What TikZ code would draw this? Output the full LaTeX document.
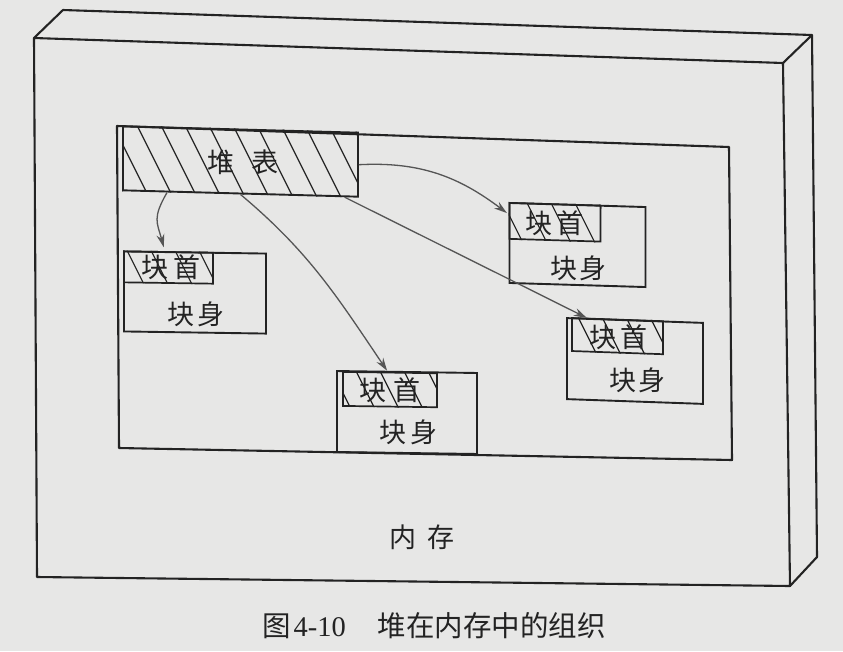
\documentclass[tikz,border=0pt]{standalone}
\usepackage{fontspec}
\setmainfont{Liberation Serif}
\newfontfamily\cjk{Noto Sans CJK SC}
\usetikzlibrary{calc,arrows.meta}

\definecolor{bgc}{RGB}{231,231,230}
\definecolor{inkc}{RGB}{35,35,35}
\definecolor{linkc}{RGB}{85,85,85}

\tikzset{
  frameline/.style={draw=inkc, line width=2.1pt, line join=round},
  blockbox/.style={draw=inkc, line width=1.9pt, inner sep=0pt, anchor=center},
  headbox/.style={draw=inkc, line width=1.7pt, inner sep=0pt, anchor=north west},
  lbl/.style={font=\cjk\fontsize{27}{27}\selectfont, inner sep=0pt, text=inkc},
  link/.style={draw=linkc, line width=1.3pt, -{Stealth[length=13pt,width=8pt]}},
  hatchline/.style={draw=inkc, line width=1.2pt}
}

% diagonal hatching clipped to a node: #1 node, #2 offset of first line, #3 last index
\newcommand\hatchbox[3]{%
  \begin{scope}
    \clip (#1.north west) -- (#1.north east) -- (#1.south east) -- (#1.south west) -- cycle;
    \foreach \k in {0,...,#3}
      \draw[hatchline] ($(#1.north west)+(#2+24*\k,0)$) -- ++(50,-100);
  \end{scope}}

\begin{document}
\begin{tikzpicture}[x=1pt,y=1pt]
  \fill[bgc] (0,0) rectangle (843,-651);
  \useasboundingbox (0,0) rectangle (843,-651);

  % memory box: front face, top face and right face
  \coordinate (f1) at (34,-38);
  \coordinate (f2) at (783,-63);
  \coordinate (f3) at (790,-586);
  \coordinate (f4) at (37,-577);
  \coordinate (b1) at (63,-10);
  \coordinate (b2) at (812,-35);
  \coordinate (b3) at (817,-557);
  \draw[frameline] (f1) -- (f2) -- (f3) -- (f4) -- cycle;
  \draw[frameline] (f1) -- (b1) -- (b2) -- (f2);
  \draw[frameline] (b2) -- (b3) -- (f3);

  % heap area
  \coordinate (h1) at (117,-126);
  \coordinate (h2) at (729,-147);
  \coordinate (h3) at (732,-460);
  \coordinate (h4) at (119,-448);
  \draw[frameline] (h1) -- (h2) -- (h3) -- (h4) -- cycle;

  % heap table
  \node[blockbox, minimum width=235pt, minimum height=64pt, yslant=-0.027] (tbl) at (240.5,-161.5) {};
  \hatchbox{tbl}{-33}{13}
  \node[lbl] (tbltxt) at (243,-162) {堆\hspace{17pt}表};

  % block A
  \node[blockbox, minimum width=142pt, minimum height=80pt, yslant=-0.015] (blkA) at (195,-292.5) {};
  \node[headbox, minimum width=89pt, minimum height=31pt, yslant=-0.015] (hdA) at (blkA.north west) {};
  \hatchbox{hdA}{-44}{7}
  \node[lbl] (tA1) at (171,-267) {块\hspace{5pt}首};
  \node[lbl] (tA2) at (196,-314) {块\hspace{4pt}身};

  % block B
  \node[blockbox, minimum width=136pt, minimum height=80pt, yslant=-0.03] (blkB) at (577.5,-245) {};
  \node[headbox, minimum width=91pt, minimum height=36pt, yslant=-0.03] (hdB) at (blkB.north west) {};
  \hatchbox{hdB}{-30}{7}
  \node[lbl] (tB1) at (554,-223) {块\hspace{4pt}首};
  \node[lbl] (tB2) at (578,-268) {块\hspace{2pt}身};

  % block C
  \node[blockbox, minimum width=136pt, minimum height=81pt, yslant=-0.035] (blkC) at (635,-361) {};
  \node[headbox, minimum width=91pt, minimum height=33pt, yslant=-0.035] (hdC) at ($(blkC.north west)+(5,0)$) {};
  \hatchbox{hdC}{-41}{7}
  \node[lbl] (tC1) at (618,-337) {块\hspace{4pt}首};
  \node[lbl] (tC2) at (637,-380) {块\hspace{2pt}身};

  % block D
  \node[blockbox, minimum width=140pt, minimum height=81pt, yslant=-0.014] (blkD) at (407,-412.5) {};
  \node[headbox, minimum width=94pt, minimum height=34pt, yslant=-0.014] (hdD) at ($(blkD.north west)+(6,-1)$) {};
  \hatchbox{hdD}{-34}{7}
  \node[lbl] (tD1) at (390,-390) {块\hspace{7pt}首};
  \node[lbl] (tD2) at (408,-432) {块\hspace{4pt}身};

  % links from the heap table to the block headers
  \draw[link, shorten >=4pt] ($(tbl.south west)!0.19!(tbl.south east)$)
     to[out=-120, in=105, looseness=1.3] ($(blkA.north west)!0.29!(blkA.north east)$);
  \draw[link] (tbl.south)
     to[out=-40, in=124] ($(blkD.north west)!0.36!(blkD.north east)$);
  \draw[link, shorten >=2pt] (tbl.east)
     to[out=3, in=143] ($(blkB.north west)!0.15!(blkB.south west)$);
  \draw[link] ($(tbl.south west)!0.94!(tbl.south east)$)
     -- ($(blkC.north west)!0.15!(blkC.north east)$);

  % labels
  \node[lbl] (mem) at (422,-537) {内\hspace{12pt}存};
  \node[font=\fontsize{28.5}{28.5}\selectfont, inner sep=0pt, text=inkc] (cap) at (434,-626)
     {{\cjk 图}\hspace{3pt}4-10\hspace{32pt}{\cjk 堆在内存中的组织}};
\end{tikzpicture}
\end{document}
